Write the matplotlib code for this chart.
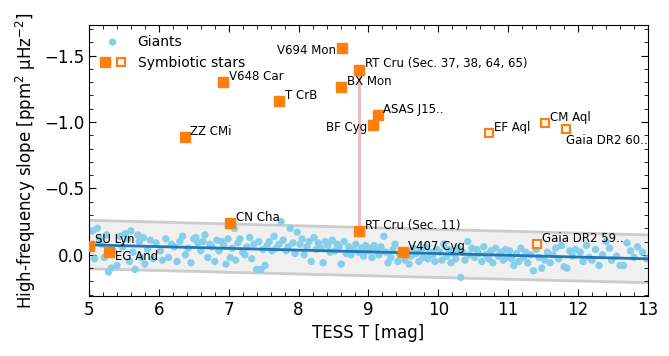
import numpy as np
import matplotlib
matplotlib.use("Agg")
import matplotlib.pyplot as plt
from matplotlib.legend_handler import HandlerTuple
from matplotlib.ticker import MultipleLocator

# ---- Giants (TESS T mag, high-frequency slope) ----
giants_x = [
    5.02, 5.05, 5.08, 5.12, 5.15, 5.18, 5.22, 5.25, 5.28, 5.32, 5.35, 5.40, 5.44, 5.48,
    5.52, 5.55, 5.58, 5.60, 5.63, 5.66, 5.70, 5.72, 5.75, 5.78, 5.80, 5.84, 5.88, 5.92, 5.96,
    6.02, 6.05, 6.10, 6.14, 6.18, 6.22, 6.26, 6.30, 6.34, 6.38, 6.42, 6.46, 6.50,
    6.53, 6.56, 6.60, 6.63, 6.66, 6.70, 6.73, 6.76, 6.80, 6.83, 6.86, 6.90, 6.93, 6.96, 6.99,
    7.02, 7.05, 7.08, 7.10, 7.13, 7.16, 7.20, 7.23, 7.26, 7.30, 7.33, 7.36, 7.40, 7.43, 7.46, 7.49,
    7.52, 7.55, 7.58, 7.62, 7.65, 7.68, 7.72, 7.75, 7.78, 7.82, 7.85, 7.88, 7.92, 7.95, 7.98,
    8.02, 8.05, 8.08, 8.12, 8.15, 8.18, 8.22, 8.25, 8.28, 8.32, 8.35, 8.38, 8.42, 8.45, 8.48,
    8.52, 8.55, 8.58, 8.61, 8.65, 8.68, 8.72, 8.75, 8.78, 8.82, 8.86, 8.90, 8.93, 8.96, 8.99,
    9.02, 9.05, 9.08, 9.12, 9.15, 9.18, 9.22, 9.25, 9.28, 9.32, 9.35, 9.38, 9.42, 9.45, 9.48,
    9.52, 9.55, 9.58, 9.61, 9.64, 9.68, 9.72, 9.75, 9.78, 9.82, 9.85, 9.88, 9.92, 9.95, 9.98,
    10.02, 10.05, 10.08, 10.12, 10.15, 10.18, 10.22, 10.25, 10.28, 10.32, 10.35, 10.38, 10.42, 10.45, 10.48,
    10.52, 10.55, 10.58, 10.62, 10.65, 10.68, 10.72, 10.75, 10.78, 10.82, 10.86, 10.90, 10.93, 10.96, 10.99,
    11.02, 11.05, 11.08, 11.12, 11.15, 11.18, 11.22, 11.25, 11.28, 11.32, 11.36, 11.40, 11.44, 11.48,
    11.52, 11.56, 11.60, 11.64, 11.68, 11.72, 11.76, 11.80, 11.84, 11.88, 11.92, 11.96,
    12.03, 12.07, 12.12, 12.16, 12.20, 12.25, 12.30, 12.35, 12.40, 12.45, 12.48,
    12.55, 12.60, 12.65, 12.70, 12.75, 12.80, 12.85, 12.92, 12.98,
]
giants_y = [
    -0.05, -0.18, 0.03, -0.20, -0.12, -0.08, 0.02, -0.15, 0.13, 0.10, -0.03, 0.08, -0.14, -0.06,
    -0.16, -0.12, 0.05, -0.18, -0.02, 0.11, -0.15, -0.10, 0.02, -0.13, 0.07, -0.04, -0.11, 0.03, -0.09,
    -0.03, 0.04, -0.12, 0.02, -0.08, -0.06, 0.05, -0.10, -0.14, 0.00, -0.05, 0.06, -0.12,
    -0.13, -0.09, -0.03, -0.10, -0.15, 0.02, -0.08, -0.06, 0.05, -0.11, -0.03, -0.10, -0.07, 0.07, -0.12,
    0.02, -0.05, -0.20, 0.04, -0.09, -0.12, -0.02, 0.00, -0.06, -0.13, 0.03, -0.08, 0.11, -0.10, 0.11, -0.04,
    0.08, -0.07, -0.10, -0.03, -0.14, -0.05, -0.08, -0.25, -0.11, -0.03, -0.06, -0.20, -0.09, -0.01, -0.17,
    -0.08, -0.12, 0.00, -0.06, -0.10, 0.05, -0.13, -0.04, -0.09, -0.05, 0.06, -0.10, -0.07, -0.02, -0.11,
    -0.03, -0.08, -0.06, 0.07, -0.10, -0.01, -0.06, 0.00, -0.04, -0.08, -0.02, -0.05, 0.01, -0.07, -0.03,
    -0.05, 0.02, -0.07, -0.03, 0.00, -0.06, -0.14, -0.02, 0.06, 0.02, -0.04, -0.08, 0.05, 0.00, -0.03,
    0.04, -0.03, 0.07, 0.01, -0.05, -0.01, 0.05, -0.04, 0.02, -0.06, 0.03, -0.02, 0.00, 0.05, -0.04,
    -0.02, 0.04, -0.08, 0.01, -0.04, 0.06, -0.01, 0.03, -0.05, 0.17, -0.02, 0.04, -0.10, 0.00, -0.05,
    0.02, -0.04, -0.01, 0.05, -0.06, 0.00, 0.03, -0.03, 0.06, -0.05, 0.01, -0.02, 0.04, -0.04, 0.02,
    -0.03, 0.03, 0.08, -0.01, 0.05, -0.05, 0.02, -0.02, 0.06, 0.00, 0.12, -0.04, 0.02, 0.10,
    0.04, -0.02, 0.06, 0.00, -0.05, 0.03, -0.07, 0.09, 0.10, -0.03, 0.01, -0.04,
    -0.02, 0.05, -0.07, 0.02, 0.04, -0.04, 0.08, 0.00, -0.10, -0.05, 0.04,
    0.01, 0.08, 0.08, -0.09, -0.03, 0.02, -0.06, -0.02, 0.03,
]

# ---- Trend line and band ----
trend_x = [5.0, 13.0]
trend_y = [-0.075, 0.03]
band_upper = [-0.26, -0.15]
band_lower = [0.105, 0.21]

# ---- Symbiotic stars (filled) ----
sym_names = ["V694 Mon", "RT Cru (Sec. 37, 38, 64, 65)", "V648 Car", "BX Mon", "T CrB",
             "ASAS J15..", "BF Cyg", "ZZ CMi", "CN Cha", "RT Cru (Sec. 11)", "SU Lyn",
             "EG And", "V407 Cyg"]
sym_x = [8.62, 8.87, 6.92, 8.61, 7.72, 9.13, 9.06, 6.37, 7.02, 8.87, 5.0, 5.29, 9.49]
sym_y = [-1.56, -1.39, -1.30, -1.26, -1.16, -1.05, -0.98, -0.89, -0.24, -0.18, -0.07, -0.02, -0.02]

# ---- Symbiotic stars (open) ----
open_names = ["EF Aql", "CM Aql", "Gaia DR2 60..", "Gaia DR2 59.."]
open_x = [10.72, 11.52, 11.82, 11.41]
open_y = [-0.915, -0.99, -0.945, -0.08]

# RT Cru connection
rtcru_x = 8.87
rtcru_span = [-1.39, -0.18]

# label offsets (points)
sym_off = [(-4, -2, "right"), (4, 5, "left"), (4, 4, "left"), (4, 4, "left"), (4, 4, "left"),
           (4, 4, "left"), (-4, -2, "right"), (4, 4, "left"), (4, 4, "left"), (4, 4, "left"),
           (4, 4, "left"), (4, -3, "left"), (4, 4, "left")]
open_off = [(4, 4, "left"), (4, 4, "left"), (0, -8, "left"), (4, 4, "left")]

orange = "#ff7f0e"
sky = "#87ceeb"

fig = plt.figure(figsize=(6.69, 3.56), dpi=100)
ax = fig.add_axes([0.133, 0.1685, 0.8356, 0.7613])

ax.fill_between(trend_x, band_upper, band_lower, color="#f0f0f0", zorder=0)
ax.plot(trend_x, band_upper, color="#cccccc", lw=2, zorder=1)
ax.plot(trend_x, band_lower, color="#cccccc", lw=2, zorder=1)

g = ax.scatter(giants_x, giants_y, s=28, color=sky, edgecolors="none", zorder=2)
ax.plot(trend_x, trend_y, color="#1f77b4", lw=2, zorder=3)

ax.plot([rtcru_x, rtcru_x], rtcru_span, color="#e8b8bb", lw=2, zorder=3)

f, = ax.plot(sym_x, sym_y, "s", ms=7, color=orange, mec=orange, ls="none", zorder=4)
o, = ax.plot(open_x, open_y, "s", ms=6, mfc="white", mec=orange, mew=1.6, ls="none", zorder=4)

for n, x, y, (dx, dy, ha) in zip(sym_names, sym_x, sym_y, sym_off):
    ax.annotate(n, (x, y), xytext=(dx, dy), textcoords="offset points",
                ha=ha, va="center", fontsize=8.5, zorder=5)
for n, x, y, (dx, dy, ha) in zip(open_names, open_x, open_y, open_off):
    ax.annotate(n, (x, y), xytext=(dx, dy), textcoords="offset points",
                ha=ha, va="center", fontsize=8.5, zorder=5)

ax.set_xlim(5, 13)
ax.set_ylim(0.31, -1.73)
ax.xaxis.set_major_locator(MultipleLocator(1))
ax.xaxis.set_minor_locator(MultipleLocator(0.2))
ax.yaxis.set_major_locator(MultipleLocator(0.5))
ax.yaxis.set_minor_locator(MultipleLocator(0.1))
ax.tick_params(which="both", direction="in", top=True, right=True, labelsize=12)
ax.tick_params(which="major", length=5)
ax.tick_params(which="minor", length=3)

ax.set_xlabel("TESS T [mag]", fontsize=12)
ax.set_ylabel(r"High-frequency slope [ppm$^2$ $\mathrm{\mu}$Hz$^{-2}$]", fontsize=12)

ax.legend([g, (f, o)], ["Giants", "Symbiotic stars"], loc="upper left", frameon=False,
          fontsize=10, handler_map={tuple: HandlerTuple(ndivide=None, pad=0.3)},
          borderaxespad=0.3)

fig.savefig("out.png", dpi=100)
